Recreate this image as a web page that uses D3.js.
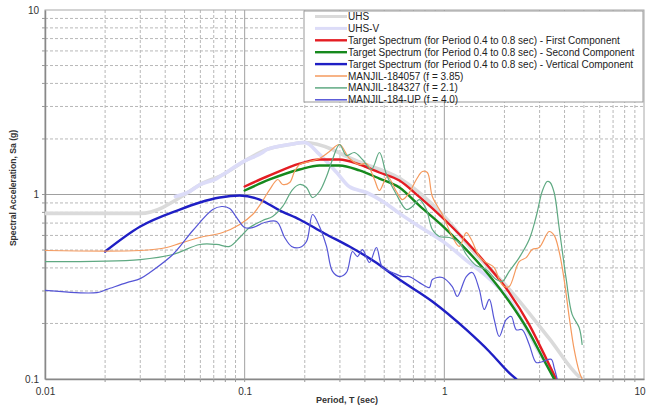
<!DOCTYPE html>
<html><head><meta charset="utf-8">
<script src="https://cdn.jsdelivr.net/npm/d3@7"></script>
<style>
html,body{margin:0;padding:0;background:#fff;}
svg{display:block;font-family:"Liberation Sans",Arial,sans-serif;}
</style></head>
<body><svg id="chart" width="648" height="407"></svg>
<script>
// ---- data (Period T in sec, Spectral acceleration Sa in g) ----
const uhsT  = [0.01,0.03,0.0531,0.0596,0.0776,0.1,0.128,0.168,0.2,0.2754,0.3236,0.376,0.6,1.0,1.38,2.188,3.35,4.732,4.9];
const uhsSa = [0.79,0.79,1.04,1.13,1.28,1.52,1.75,1.866,1.913,1.754,1.607,1.5,1.22,0.76,0.5,0.294,0.166,0.103,0.1];

const uhsvT  = [0.045,0.0531,0.0596,0.0724,0.0776,0.1,0.123,0.1288,0.168,0.2,0.237,0.2884,0.335,0.4074,0.4898,0.5957,0.75,1.0,1.288,1.679,2.113,2.985,3.6];
const uhsvSa = [0.975,1.04,1.13,1.22,1.28,1.52,1.69,1.75,1.866,1.913,1.65,1.32,1.1,1.025,0.92,0.79,0.67,0.55,0.44,0.35,0.27,0.14,0.1];

const tgt1T  = [0.1,0.1334,0.1884,0.237,0.2985,0.3758,0.4732,0.5957,0.7499,1.0,1.288,1.679,2.113,2.661,3.162,3.631];
const tgt1Sa = [1.105,1.268,1.47,1.548,1.548,1.454,1.316,1.19,0.97,0.732,0.556,0.402,0.294,0.197,0.136,0.1];

const tgt2T  = [0.1,0.1334,0.1884,0.237,0.2985,0.3758,0.4732,0.5957,0.75,1.0,1.288,1.679,2.113,2.661,3.162,3.548];
const tgt2Sa = [1.051,1.206,1.366,1.436,1.436,1.35,1.22,1.091,0.87,0.662,0.503,0.364,0.263,0.179,0.126,0.1];

const tgtVT  = [0.02,0.03,0.0473,0.0596,0.075,0.0944,0.1189,0.1496,0.1884,0.2512,0.335,0.4467,0.5957,0.871,1.288,1.679,2.113,2.291];
const tgtVSa = [0.491,0.671,0.829,0.905,0.963,0.988,0.939,0.82,0.732,0.615,0.523,0.433,0.346,0.263,0.185,0.141,0.108,0.1];

const m057T  = [0.01,0.03,0.0407,0.0473,0.0596,0.0776,0.0944,0.1096,0.1216,0.1334,0.1466,0.155,0.168,0.1778,0.1884,0.2113,0.237,0.266,0.2985,0.335,0.3758,0.4074,0.4467,0.4732,0.5188,0.5754,0.6166,0.6683,0.7244,0.7762,0.8222,0.871,0.977,1.096,1.189,1.288,1.365,1.496,1.622,1.778,1.884,1.995,2.113,2.371,2.57,2.754,2.985,3.35,3.548,3.758,3.981,4.217,4.467,4.732,4.898];
const m057Sa = [0.497,0.497,0.516,0.543,0.585,0.622,0.688,0.779,0.905,1.064,1.206,1.133,1.162,1.332,1.454,1.51,1.567,1.71,1.866,1.567,1.454,1.472,1.206,1.051,1.252,1.038,0.939,1.025,1.206,1.332,1.316,0.975,0.779,0.592,0.523,0.622,0.57,0.461,0.428,0.402,0.346,0.317,0.317,0.433,0.455,0.503,0.516,0.63,0.6,0.491,0.346,0.218,0.145,0.11,0.1];

const m327T  = [0.01,0.03,0.0437,0.0596,0.0724,0.0841,0.0944,0.1059,0.123,0.138,0.155,0.1738,0.1884,0.204,0.2188,0.237,0.257,0.2754,0.2985,0.3236,0.3548,0.389,0.4315,0.4732,0.5129,0.5754,0.6457,0.6918,0.7499,0.8128,0.871,0.944,1.059,1.189,1.288,1.445,1.622,1.82,1.95,2.113,2.371,2.661,2.884,3.09,3.273,3.388,3.548,3.758,4.074,4.365,4.732,4.898];
const m327Sa = [0.433,0.444,0.473,0.536,0.536,0.523,0.585,0.662,0.723,0.76,0.861,1.064,1.133,1.091,0.963,1.038,1.252,1.548,1.866,1.627,1.689,1.548,1.366,1.689,1.284,1.0,0.829,0.861,0.939,0.829,0.646,0.592,0.585,0.549,0.473,0.412,0.392,0.346,0.338,0.383,0.455,0.57,0.76,1.038,1.176,1.162,1.025,0.662,0.35,0.224,0.19,0.154];

const mUpT  = [0.01,0.0182,0.0204,0.0257,0.03,0.0335,0.0437,0.055,0.0692,0.0767,0.0841,0.0912,0.1,0.1096,0.1259,0.1445,0.1585,0.1718,0.1884,0.204,0.2188,0.237,0.257,0.2754,0.2985,0.3236,0.3467,0.3673,0.389,0.4217,0.4571,0.4898,0.5495,0.6166,0.6683,0.7499,0.8414,0.871,0.977,1.096,1.161,1.288,1.38,1.496,1.585,1.679,1.778,1.884,2.04,2.163,2.291,2.455,2.661,2.884,3.09,3.428,3.548,3.673];
const mUpSa = [0.302,0.294,0.306,0.333,0.35,0.378,0.473,0.638,0.829,0.861,0.84,0.75,0.662,0.662,0.705,0.714,0.585,0.523,0.516,0.556,0.779,0.671,0.523,0.383,0.359,0.378,0.491,0.461,0.503,0.428,0.516,0.402,0.378,0.359,0.359,0.333,0.313,0.346,0.355,0.317,0.28,0.359,0.378,0.306,0.238,0.27,0.21,0.17,0.21,0.218,0.185,0.185,0.154,0.123,0.124,0.128,0.115,0.1];

const legendLabels = ["UHS","UHS-V",
  "Target Spectrum (for Period 0.4 to 0.8 sec) - First Component",
  "Target Spectrum (for Period 0.4 to 0.8 sec) - Second Component",
  "Target Spectrum (for Period 0.4 to 0.8 sec) - Vertical Component",
  "MANJIL-184057 (f = 3.85)","MANJIL-184327 (f = 2.1)","MANJIL-184-UP (f = 4.0)"];
const xTickLabels = ["0.01","0.1","1","10"];
const yTickLabels = ["0.1","1","10"];
const xTitle = "Period, T (sec)";
const yTitle = "Spectral Acceleration, Sa (g)";

// ---- chart ----
const svg = d3.select("#chart");
const L = 45, R = 644, T = 10, B = 379;
const x = d3.scaleLog().domain([0.01,10]).range([L,R]);
const y = d3.scaleLog().domain([0.1,10]).range([B,T]);

const zip = (a,b)=>a.map((v,i)=>[v,b[i]]);
const series = [
  {d:zip(uhsT,uhsSa),  c:"#dadada", w:3.6, curve:d3.curveMonotoneX},
  {d:zip(uhsvT,uhsvSa),c:"#dcdcf8", w:3.6, curve:d3.curveMonotoneX},
  {d:zip(tgt1T,tgt1Sa),c:"#e41d23", w:2.4, curve:d3.curveMonotoneX},
  {d:zip(tgt2T,tgt2Sa),c:"#16891d", w:2.4, curve:d3.curveMonotoneX},
  {d:zip(tgtVT,tgtVSa),c:"#1f1fc4", w:2.4, curve:d3.curveMonotoneX},
  {d:zip(m057T,m057Sa),c:"#f59a5e", w:1.2, curve:d3.curveCatmullRom.alpha(0.5)},
  {d:zip(m327T,m327Sa),c:"#5fa982", w:1.2, curve:d3.curveCatmullRom.alpha(0.5)},
  {d:zip(mUpT,mUpSa),  c:"#5555d6", w:1.2, curve:d3.curveCatmullRom.alpha(0.5)}
];

// grid
const g = svg.append("g");
const minorX = [], minorY = [];
[0.01,0.1,1].forEach(dec=>{ for(let k=2;k<=9;k++) minorX.push(dec*k); });
[0.1,1].forEach(dec=>{ for(let k=2;k<=9;k++) minorY.push(dec*k); });
g.selectAll(".mx").data(minorX).enter().append("line")
  .attr("x1",d=>x(d)).attr("x2",d=>x(d)).attr("y1",T).attr("y2",B)
  .attr("stroke","#b8b8b8").attr("stroke-width",1).attr("stroke-dasharray","3,2");
g.selectAll(".my").data(minorY).enter().append("line")
  .attr("x1",L).attr("x2",R).attr("y1",d=>y(d)).attr("y2",d=>y(d))
  .attr("stroke","#b8b8b8").attr("stroke-width",1).attr("stroke-dasharray","3,2");
g.selectAll(".Mx").data([0.1,1]).enter().append("line")
  .attr("x1",d=>x(d)).attr("x2",d=>x(d)).attr("y1",T).attr("y2",B)
  .attr("stroke","#a0a0a0").attr("stroke-width",1);
g.selectAll(".My").data([1]).enter().append("line")
  .attr("x1",L).attr("x2",R).attr("y1",d=>y(d)).attr("y2",d=>y(d))
  .attr("stroke","#a0a0a0").attr("stroke-width",1);

// frame
svg.append("rect").attr("x",L).attr("y",T).attr("width",R-L).attr("height",B-T)
  .attr("fill","none").attr("stroke","#a8a8a8").attr("stroke-width",1);

// axes
const xAxis = d3.axisBottom(x).tickValues([0.01,0.1,1,10]).tickFormat((d,i)=>xTickLabels[i]).tickSize(0).tickPadding(9);
const yAxis = d3.axisLeft(y).tickValues([0.1,1,10]).tickFormat((d,i)=>yTickLabels[i]).tickSize(0).tickPadding(6);
const gx = svg.append("g").attr("transform",`translate(0,${B})`).call(xAxis);
const gy = svg.append("g").attr("transform",`translate(${L},0)`).call(yAxis);
[gx,gy].forEach(a=>{
  a.select(".domain").attr("stroke","#888").attr("stroke-width",1.5);
  a.selectAll("text").attr("font-size",10).attr("fill","#333").attr("font-family","Liberation Sans, Arial, sans-serif");
});
gx.selectAll(".tick").filter(d=>d===10).select("text").attr("text-anchor","end").attr("dx",1);
// small tick marks
svg.append("g").selectAll("line").data(minorX.concat([0.1,1])).enter().append("line")
  .attr("x1",d=>x(d)).attr("x2",d=>x(d)).attr("y1",B).attr("y2",B+3).attr("stroke","#999");
svg.append("g").selectAll("line").data(minorY.concat([1])).enter().append("line")
  .attr("x1",L-3).attr("x2",L).attr("y1",d=>y(d)).attr("y2",d=>y(d)).attr("stroke","#999");

svg.append("text").attr("x",347).attr("y",403).attr("text-anchor","middle")
  .attr("font-size",9).attr("font-weight","bold").attr("fill","#333").text(xTitle);
svg.append("text").attr("transform","translate(16,188) rotate(-90)").attr("text-anchor","middle")
  .attr("font-size",8.6).attr("font-weight","bold").attr("fill","#333").text(yTitle);

// clip
svg.append("clipPath").attr("id","clip").append("rect")
  .attr("x",L).attr("y",T).attr("width",R-L).attr("height",B-T);
const lines = svg.append("g").attr("clip-path","url(#clip)");
series.forEach(s=>{
  lines.append("path").datum(s.d)
    .attr("d",d3.line().x(d=>x(d[0])).y(d=>y(d[1])).curve(s.curve))
    .attr("fill","none").attr("stroke",s.c).attr("stroke-width",s.w)
    .attr("stroke-linejoin","round").attr("stroke-linecap","round");
});

// legend
const lg = svg.append("g");
lg.append("rect").attr("x",304).attr("y",T+1).attr("width",339).attr("height",91)
  .attr("fill","#fff").attr("stroke","#999").attr("stroke-width",1);
legendLabels.forEach((lab,i)=>{
  const yy = 16.5 + i*11.9;
  lg.append("line").attr("x1",315).attr("x2",347).attr("y1",yy).attr("y2",yy)
    .attr("stroke",series[i].c).attr("stroke-width",i<5?(i<2?3:2.4):1.5);
  lg.append("text").attr("x",348).attr("y",yy+3.5).attr("font-size",10).attr("fill","#222").text(lab);
});
</script>
</body></html>
